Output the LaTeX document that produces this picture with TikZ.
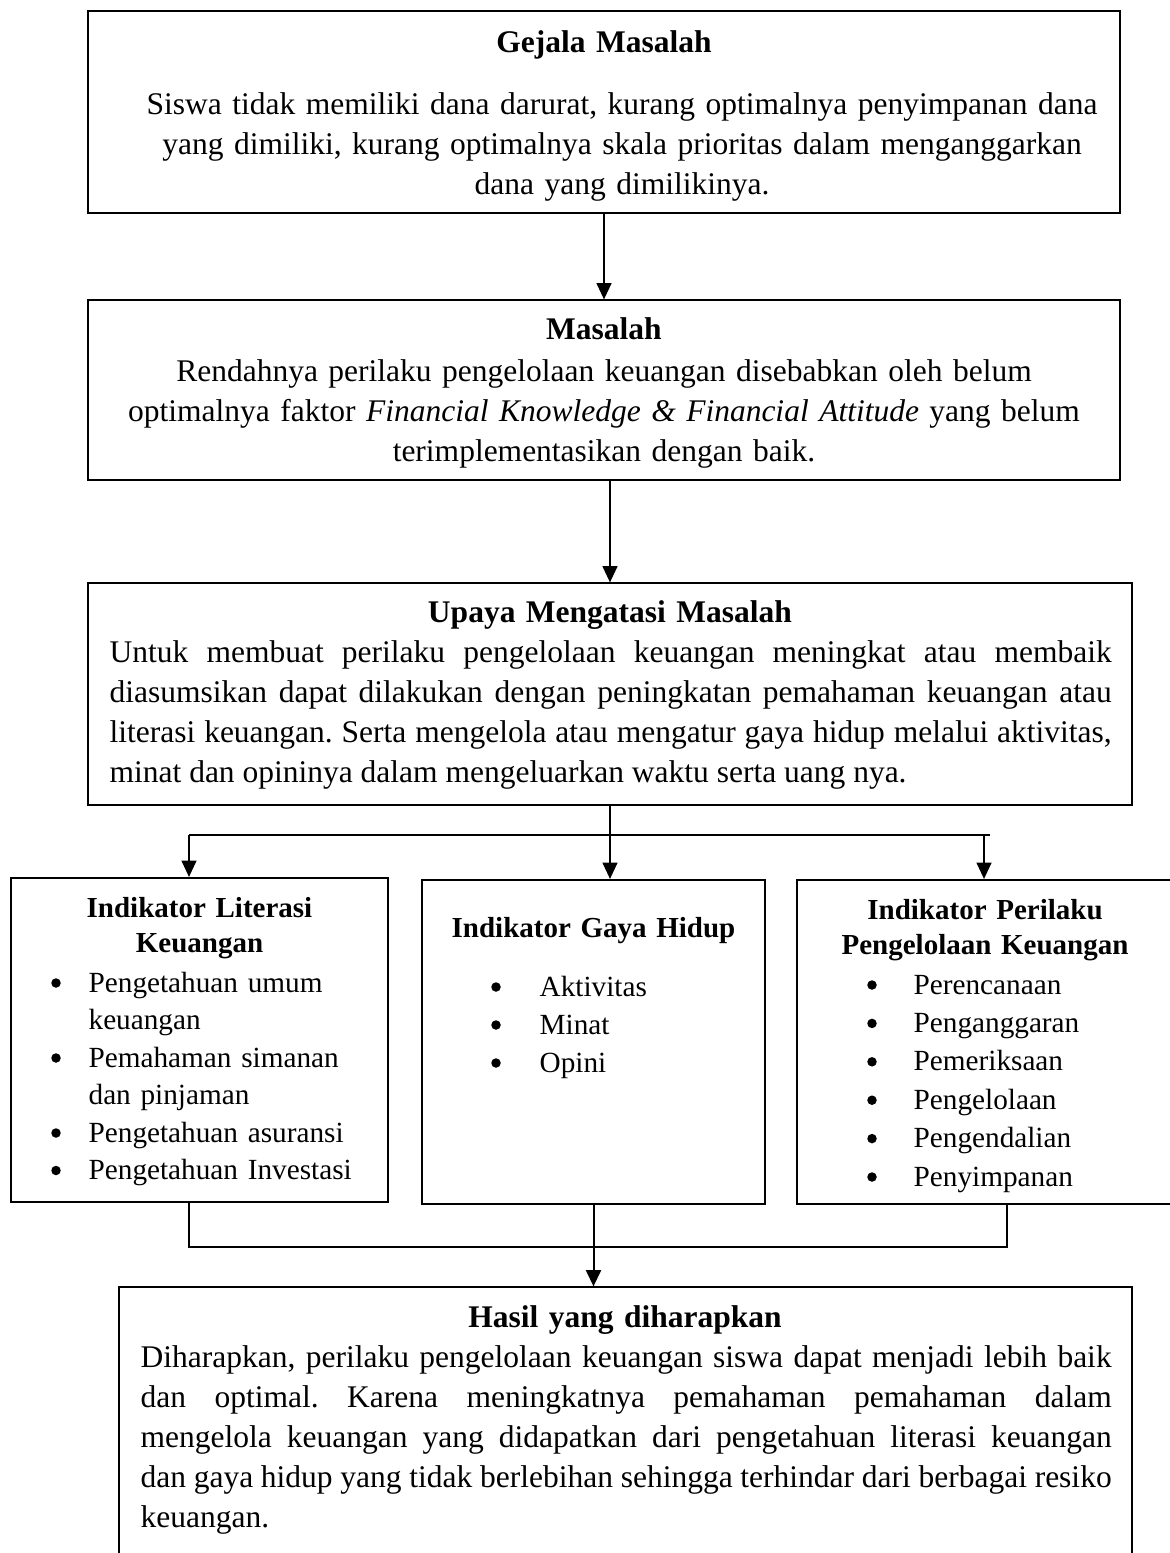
\documentclass[tikz,border=0pt]{standalone}
\usepackage{fontspec}
\setmainfont{Liberation Serif}
\usetikzlibrary{arrows.meta}
\hyphenpenalty=10000
\exhyphenpenalty=10000
\frenchspacing

\newcommand{\huruf}{\fontsize{12.6}{16}\selectfont}
\newcommand{\hurufkecil}{\fontsize{11.6}{14}\selectfont}

\tikzset{
  box/.style={draw, line width=0.5pt, inner sep=0pt},
  tebal/.style={line width=0.9pt},
  judul/.style={font=\huruf\bfseries, anchor=base, inner sep=0pt, text width=#1, align=center},
  judul/.default=300pt,
  isi/.style={font=\huruf, anchor=base west, inner sep=0pt, text width=#1, align=justify},
  item/.style={font=\fontsize{11.7}{15}\selectfont, anchor=base west, inner sep=0pt, text width=115pt, align=left},
  arr/.style={-{Triangle[width=6pt,length=6.5pt]}},
}

\begin{document}
\begin{tikzpicture}[x=0.4pt, y=-0.4pt, line width=0.5pt]
  \useasboundingbox (0,0) rectangle (1170,1553);
  \clip (0,0) rectangle (1170,1553);

  % kotak-kotak
  \node[box, tebal, minimum width=412.8pt, minimum height=80.8pt] (b1) at (604,112) {};
  \node[box, minimum width=412.8pt, minimum height=72pt] (b2) at (604,390) {};
  \node[box, minimum width=417.6pt, minimum height=88.8pt] (b3) at (610,694) {};
  \node[box, tebal, minimum width=150.8pt, minimum height=129.6pt] (b4) at (199.5,1040) {};
  \node[box, tebal, minimum width=137.2pt, minimum height=129.6pt] (b5) at (593.5,1042) {};
  \node[box, tebal, minimum width=150.4pt, minimum height=129.6pt] (b6) at (985,1042) {};
  \node[box, minimum width=405.2pt, minimum height=125.2pt] (b7) at (625.5,1443.5) {};

  % teks
  \node[judul] (t1) at (604,52) {Gejala Masalah};
  \node[font=\huruf, anchor=base, inner sep=0pt, text width=400pt, align=center] (p1) at (622,114)
    {Siswa tidak memiliki dana darurat, kurang optimalnya penyimpanan dana\\
     yang dimiliki, kurang optimalnya skala prioritas dalam menganggarkan\\
     dana yang dimilikinya.};

  \node[judul] (t2) at (604,339) {Masalah};
  \node[font=\huruf, anchor=base, inner sep=0pt, text width=400pt, align=center] (p2) at (604,381)
    {Rendahnya perilaku pengelolaan keuangan disebabkan oleh belum\\
     optimalnya faktor \textit{Financial Knowledge \& Financial Attitude} yang belum\\
     terimplementasikan dengan baik.};

  \node[judul] (t3) at (610,622) {Upaya Mengatasi Masalah};
  \node[isi=400.8pt] (p3) at (109,662)
    {Untuk membuat perilaku pengelolaan keuangan meningkat atau membaik\linebreak
     diasumsikan dapat dilakukan dengan peningkatan pemahaman keuangan atau\linebreak
     literasi keuangan. Serta mengelola atau mengatur gaya hidup melalui aktivitas,\linebreak
     minat dan opininya dalam mengeluarkan waktu serta uang nya.};

  \node[judul=145pt, font=\hurufkecil\bfseries] (t4) at (199.5,917) {Indikator Literasi\\Keuangan};
  \foreach \t/\y [count=\i] in {{Pengetahuan umum\\keuangan}/992, {Pemahaman simanan\\dan pinjaman}/1067,
                                 {Pengetahuan asuransi}/1142, {Pengetahuan Investasi}/1179.5} {
    \node[item] (lk\i) at (88,\y) {\t};
    \fill (56,\y-9) circle (1.9pt);
  }

  \node[judul=135pt, font=\hurufkecil\bfseries] (t5) at (593.5,937) {Indikator Gaya Hidup};
  \foreach \t [count=\i] in {Aktivitas, Minat, Opini} {
    \node[item] (gh\i) at (539,{996+(\i-1)*38}) {\t};
    \fill (496,{987+(\i-1)*38}) circle (1.9pt);
  }

  \node[judul=145pt, font=\hurufkecil\bfseries] (t6) at (985,919) {Indikator Perilaku\\Pengelolaan Keuangan};
  \foreach \t [count=\i] in {Perencanaan, Penganggaran, Pemeriksaan, Pengelolaan, Pengendalian, Penyimpanan} {
    \node[item] (pk\i) at (913,{994+(\i-1)*38.4}) {\t};
    \fill (872,{985+(\i-1)*38.4}) circle (1.9pt);
  }

  \node[judul] (t7) at (625,1327) {Hasil yang diharapkan};
  \node[isi=388.4pt] (p7) at (140,1367)
    {Diharapkan, perilaku pengelolaan keuangan siswa dapat menjadi lebih baik\linebreak
     dan optimal. Karena meningkatnya pemahaman pemahaman dalam\linebreak
     mengelola keuangan yang didapatkan dari pengetahuan literasi keuangan\linebreak
     dan gaya hidup yang tidak berlebihan sehingga terhindar dari berbagai resiko\linebreak
     keuangan.};

  % panah
  \draw[arr] (b1.south) -- (b2.north);
  \draw[arr] (b2.south -| b3.north) -- (b3.north);

  \coordinate (ka) at (189,835);
  \coordinate (kb) at (990,835);
  \coordinate (kc) at (984,835);
  \draw[line width=1.1pt] (ka) -- (kb);
  \draw[arr] (ka) -- (ka |- b4.north);
  \draw[arr] (b3.south) -- (b3.south |- b5.north);
  \draw[arr] (kc) -- (kc |- b6.north);

  \coordinate (ma) at (189,1247);
  \coordinate (mb) at (1007,1247);
  \draw[line width=0.7pt] (ma |- b4.south) -- (ma) -- (mb) -- (mb |- b6.south);
  \draw[arr, line width=0.8pt] (b5.south) -- (b5.south |- b7.north);
\end{tikzpicture}
\end{document}
